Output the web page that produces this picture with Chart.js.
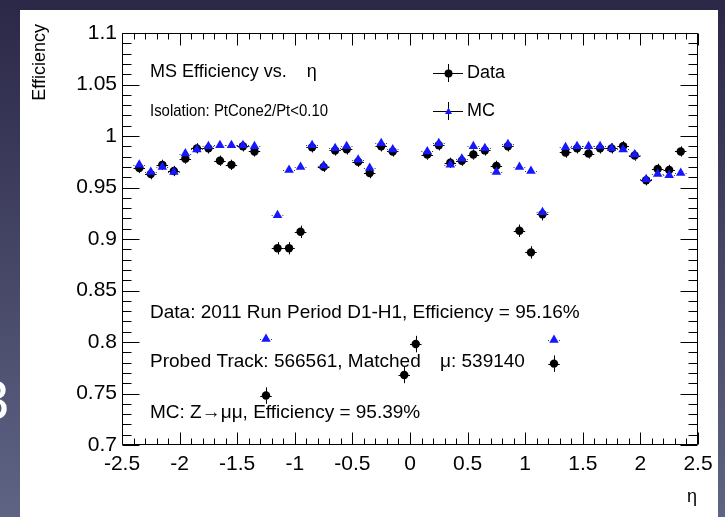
<!DOCTYPE html>
<html>
<head>
<meta charset="utf-8">
<script src="https://cdn.jsdelivr.net/npm/chart.js@4.4.0/dist/chart.umd.min.js"></script>
<style>
  html, body { margin: 0; padding: 0; width: 725px; height: 517px; overflow: hidden; }
  body { position: relative; background: linear-gradient(#2b2747, #5f6484); font-family: "Liberation Sans", Arial, sans-serif; }
  #panel { position: absolute; left: 20px; top: 10px; width: 698px; height: 507px; background: #fff; }
  #slideNum { position: absolute; left: -22px; top: 372px; color: #fff; font-size: 56px; line-height: 56px; }
  #wrap { position: absolute; left: 0; top: 0; }
</style>
</head>
<body>
<div id="slideNum">3</div>
<div id="panel"></div>
<div id="wrap"><canvas id="chart1" width="725" height="517"></canvas></div>
<script>
// eta bin centres (bin width 0.1)
const etaBins = [-2.35, -2.25, -2.15, -2.05, -1.95, -1.85, -1.75, -1.65, -1.55, -1.45, -1.35, -1.25,
                 -1.15, -1.05, -0.95, -0.85, -0.75, -0.65, -0.55, -0.45, -0.35, -0.25, -0.15, -0.05,
                 0.05, 0.15, 0.25, 0.35, 0.45, 0.55, 0.65, 0.75, 0.85, 0.95, 1.05, 1.15,
                 1.25, 1.35, 1.45, 1.55, 1.65, 1.75, 1.85, 1.95, 2.05, 2.15, 2.25, 2.35];

const dataEff = [0.969, 0.963, 0.972, 0.966, 0.978, 0.988, 0.988, 0.976, 0.972, 0.990, 0.985, 0.748,
                 0.891, 0.891, 0.907, 0.989, 0.970, 0.986, 0.987, 0.975, 0.964, 0.990, 0.985, 0.768,
                 0.798, 0.982, 0.991, 0.974, 0.976, 0.982, 0.986, 0.971, 0.990, 0.908, 0.887, 0.924,
                 0.779, 0.984, 0.988, 0.983, 0.988, 0.988, 0.990, 0.981, 0.957, 0.968, 0.967, 0.985];

const dataErr = [0.005, 0.005, 0.005, 0.005, 0.005, 0.005, 0.005, 0.005, 0.005, 0.005, 0.005, 0.008,
                 0.006, 0.006, 0.006, 0.005, 0.005, 0.005, 0.005, 0.005, 0.005, 0.005, 0.005, 0.008,
                 0.008, 0.005, 0.005, 0.005, 0.005, 0.005, 0.005, 0.005, 0.005, 0.006, 0.006, 0.006,
                 0.008, 0.005, 0.005, 0.005, 0.005, 0.005, 0.005, 0.005, 0.005, 0.005, 0.005, 0.005];

const mcEff = [0.972, 0.965, 0.970, 0.965, 0.983, 0.987, 0.990, 0.991, 0.991, 0.991, 0.990, 0.803,
               0.923, 0.967, 0.970, 0.991, 0.971, 0.988, 0.990, 0.977, 0.969, 0.993, 0.987, null,
               null, 0.985, 0.993, 0.972, 0.978, 0.990, 0.988, 0.965, 0.992, 0.970, 0.966, 0.926,
               0.802, 0.989, 0.990, 0.990, 0.990, 0.988, 0.987, 0.982, 0.958, 0.963, 0.962, 0.964];

const mcErr = 0.002;

const xTickStep = 0.5;
const yTickStep = 0.05;

const FONT = '"Liberation Sans", Arial, sans-serif';
const mcBlue = '#1616ff';

function fmt(v) {
    return String(Math.round(v * 100) / 100);
}

function points(vals) {
    return etaBins.map((eta, i) => ({ x: eta, y: vals[i] }));
}

// error bars, drawn under the markers
function drawErrors(ctx, xs, ys, vals, errs, gap) {
    const half = (etaBins[1] - etaBins[0]) / 2;
    ctx.strokeStyle = '#000';
    ctx.lineWidth = 1;
    ctx.beginPath();
    etaBins.forEach((eta, i) => {
        const v = vals[i];
        if (v === null) return;
        const e = Array.isArray(errs) ? errs[i] : errs;
        const px = xs.getPixelForValue(eta);
        const py = Math.round(ys.getPixelForValue(v)) + 0.5;
        const xl = xs.getPixelForValue(eta - half);
        const xr = xs.getPixelForValue(eta + half);
        ctx.moveTo(xl, py); ctx.lineTo(px - gap, py);
        ctx.moveTo(px + gap, py); ctx.lineTo(xr, py);
        const yt = ys.getPixelForValue(v + e);
        const yb = ys.getPixelForValue(v - e);
        const cx = Math.round(px) + 0.5;
        if (py - yt > gap) { ctx.moveTo(cx, yt); ctx.lineTo(cx, py - gap); }
        if (yb - py > gap) { ctx.moveTo(cx, py + gap); ctx.lineTo(cx, yb); }
    });
    ctx.stroke();
}

const rootStyle = {
    id: 'rootStyle',
    beforeDatasetsDraw(chart) {
        const ctx = chart.ctx;
        const xs = chart.scales.x, ys = chart.scales.y;
        ctx.save();
        drawErrors(ctx, xs, ys, dataEff, dataErr, 3);
        drawErrors(ctx, xs, ys, mcEff, mcErr, 5);
        ctx.restore();
    },
    afterDraw(chart) {
        const ctx = chart.ctx;
        const xs = chart.scales.x, ys = chart.scales.y;
        const a = chart.chartArea;
        const L = Math.round(a.left) + 0.5, R = Math.round(a.right) - 0.5;
        const T = Math.round(a.top) + 0.5, B = Math.round(a.bottom) - 0.5;
        ctx.save();
        ctx.strokeStyle = '#000';
        ctx.lineWidth = 1;
        ctx.beginPath();
        ctx.rect(L, T, R - L, B - T);
        // x ticks, bottom and top
        for (let i = 0; i <= 50; i++) {
            const v = xs.min + i * 0.1;
            const px = Math.round(xs.getPixelForValue(v)) + 0.5;
            const len = i % 5 === 0 ? 12 : 6;
            ctx.moveTo(px, B); ctx.lineTo(px, B - len);
            ctx.moveTo(px, T); ctx.lineTo(px, T + len);
        }
        // y ticks, left and right
        for (let i = 0; i <= 40; i++) {
            const v = ys.min + i * 0.01;
            const py = Math.round(ys.getPixelForValue(v)) + 0.5;
            const len = i % 5 === 0 ? 17 : 9;
            ctx.moveTo(L, py); ctx.lineTo(L + len, py);
            ctx.moveTo(R, py); ctx.lineTo(R - len, py);
        }
        ctx.stroke();

        ctx.fillStyle = '#000';
        ctx.textBaseline = 'middle';
        ctx.font = '18px ' + FONT;
        ctx.textAlign = 'left';

        // top left notes
        const t1 = 'MS Efficiency vs.';
        ctx.fillText(t1, 150, 72);
        ctx.fillText('\u03b7', 150 + ctx.measureText(t1).width + 20, 72);
        ctx.font = '17px ' + FONT;
        ctx.fillText('Isolation: PtCone2/Pt<0.10', 150, 111, 178);

        // bottom notes
        ctx.font = '19px ' + FONT;
        ctx.fillText('Data: 2011 Run Period D1-H1, Efficiency = 95.16%', 150, 313);
        ctx.fillText('Probed Track: 566561, Matched', 150, 362);
        ctx.fillText('\u03bc: 539140', 440, 362);
        ctx.fillText('MC: Z\u2192\u03bc\u03bc, Efficiency = 95.39%', 150, 413);

        // legend
        ctx.font = '18px ' + FONT;
        const lx = 448;
        [[73, 'Data'], [111, 'MC']].forEach(([ly, label], k) => {
            ctx.beginPath();
            ctx.moveTo(lx - 15, ly + 0.5); ctx.lineTo(lx + 15, ly + 0.5);
            ctx.moveTo(lx + 0.5, ly - 9); ctx.lineTo(lx + 0.5, ly + 9);
            ctx.stroke();
            if (k === 0) {
                ctx.beginPath();
                ctx.arc(lx + 0.5, ly + 0.5, 4, 0, Math.PI * 2);
                ctx.fill();
            } else {
                ctx.fillStyle = mcBlue;
                ctx.beginPath();
                ctx.moveTo(lx + 0.5, ly - 3.5);
                ctx.lineTo(lx + 4, ly + 3);
                ctx.lineTo(lx - 3, ly + 3);
                ctx.closePath();
                ctx.fill();
                ctx.fillStyle = '#000';
            }
            ctx.fillText(label, 467, ly);
        });

        // axis titles
        ctx.textAlign = 'right';
        ctx.fillText('\u03b7', 697, 497);
        ctx.translate(40, 24);
        ctx.rotate(-Math.PI / 2);
        ctx.fillText('Efficiency', 0, 0);
        ctx.restore();
    }
};

const tickFont = { family: FONT, size: 21 };

new Chart(document.getElementById('chart1').getContext('2d'), {
    type: 'scatter',
    data: {
        datasets: [
            {
                label: 'MC',
                data: points(mcEff),
                pointStyle: 'triangle',
                pointRadius: 5.5,
                backgroundColor: mcBlue,
                borderWidth: 0
            },
            {
                label: 'Data',
                data: points(dataEff),
                pointStyle: 'circle',
                pointRadius: 4.2,
                backgroundColor: '#000',
                borderWidth: 0
            }
        ]
    },
    options: {
        responsive: false,
        animation: false,
        layout: { padding: { left: 0, top: 33, right: 27, bottom: 0 } },
        plugins: { legend: { display: false }, tooltip: { enabled: false } },
        scales: {
            x: {
                type: 'linear', min: -2.5, max: 2.5,
                grid: { display: false, drawTicks: false },
                border: { display: false },
                ticks: { stepSize: xTickStep, padding: 7, color: '#000', font: tickFont,
                         maxRotation: 0, autoSkip: false, callback: fmt },
                afterFit: s => { s.height = 72; }
            },
            y: {
                min: 0.7, max: 1.1,
                grid: { display: false, drawTicks: false },
                border: { display: false },
                ticks: { stepSize: yTickStep, padding: 5, color: '#000', font: tickFont,
                         autoSkip: false, callback: fmt },
                afterFit: s => { s.width = 122; }
            }
        }
    },
    plugins: [rootStyle]
});
</script>
</body>
</html>
